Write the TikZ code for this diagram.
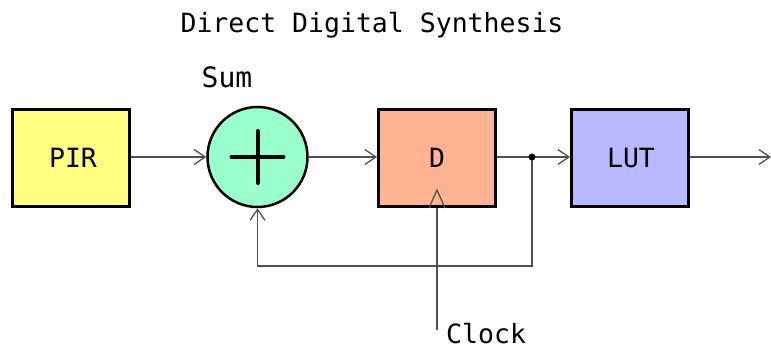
\documentclass[tikz,border=0pt]{standalone}
\usepackage{fontspec}
\setmainfont{DejaVu Sans Mono}
\usetikzlibrary{arrows.meta,calc}
\definecolor{pirc}{HTML}{FFFF80}
\definecolor{sumc}{HTML}{99FFCC}
\definecolor{dc}{HTML}{FFB392}
\definecolor{lutc}{HTML}{B8B8FF}
\definecolor{wirec}{HTML}{505050}
\tikzset{
  blockbox/.style={draw=black, line width=3pt, rectangle, minimum width=117pt, minimum height=97pt, inner sep=0pt, font=\fontsize{26.5}{26.5}\selectfont},
  sumnode/.style={draw=black, line width=2.5pt, circle, fill=sumc, minimum size=100pt, inner sep=0pt},
  wire/.style={draw=wirec, line width=1.3pt},
  arr/.style={wire, -{Straight Barb[length=11pt,width=15pt,line width=1.3pt]}},
  lbl/.style={font=\fontsize{26.5}{26.5}\selectfont, inner sep=0pt},
}
\begin{document}
\begin{tikzpicture}[x=1pt,y=-1pt]
\useasboundingbox (0,0) rectangle (771,352);
\node[lbl, anchor=base] (title) at (372,33) {Direct Digital Synthesis};
\node[blockbox, fill=pirc] (pir) at (70.5,158) {\hspace*{5pt}PIR};
\node[sumnode] (sum) at (257.5,157) {};
\draw[line width=4pt, line cap=round] (sum.center) ++(-26,0) -- ++(52,0);
\draw[line width=4pt, line cap=round] (sum.center) ++(0,-26) -- ++(0,52);
\node[lbl, anchor=base, font=\fontsize{28}{28}\selectfont] (sumlbl) at (227,88) {Sum};
\node[blockbox, fill=dc] (d) at (437,158) {D};
\node[blockbox, fill=lutc] (lut) at (630,158) {\hspace*{2pt}LUT};
\coordinate (dot) at (532,157);
\coordinate (fb) at (532,266);
\coordinate (out) at (771,157);
\coordinate (clk) at (437,330);
\node[lbl, anchor=base west] (clklbl) at (446,344) {Clock};
% triangle clock mark
\draw[wire] ($(d.south)+(-8,0)$) -- ($(d.south)+(0,-18)$) -- ($(d.south)+(8,0)$);
\draw[arr] (pir.east|-0,157) -- (sum.west);
\draw[arr] (sum.east) -- (d.west|-0,157);
\draw[wire] (d.east|-0,157) -- (dot);
\draw[arr] (dot) -- (lut.west|-0,157);
\draw[arr] (lut.east|-0,157) -- (out);
\draw[arr] (dot) -- (fb) -| (sum.south);
\draw[wire] (clk) -- (d.south);
\fill[black] (dot) circle (3.5pt);
\end{tikzpicture}
\end{document}
